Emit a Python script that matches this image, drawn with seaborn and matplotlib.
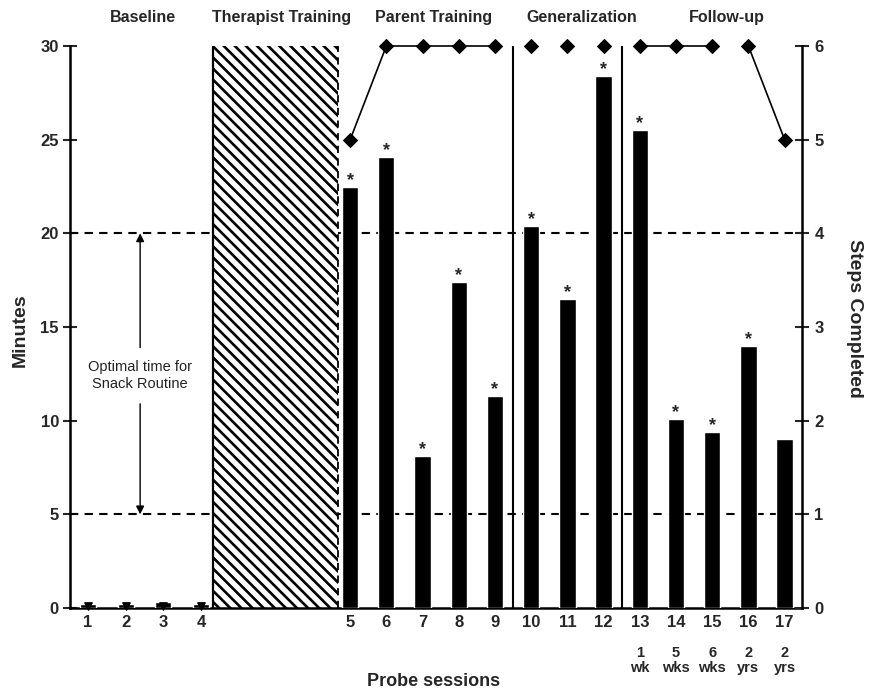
import numpy as np
import pandas as pd
import matplotlib
matplotlib.use("Agg")
import matplotlib.pyplot as plt
import seaborn as sns
from matplotlib.transforms import blended_transform_factory

# ---------------- data ----------------
sessions = [str(i) for i in range(1, 18)]
baseline_minutes = [0.2, 0.2, 0.3, 0.2]
treatment_minutes = [22.5, 24.1, 8.1, 17.4, 11.3, 20.4, 16.5, 28.4, 25.5, 10.1, 9.4, 14.0, 9.0]
steps_completed = [5, 6, 6, 6, 6, 6, 6, 6, 6, 6, 6, 6, 5]
step_segments = [1, 1, 1, 1, 1, 2, 3, 4, 5, 5, 5, 6, 6]
asterisk = [1, 1, 1, 1, 1, 1, 1, 1, 1, 1, 1, 1, 0]
followup_labels = ["1\nwk", "5\nwks", "6\nwks", "2\nyrs", "2\nyrs"]
phase_labels = ["Baseline", "Therapist Training", "Parent Training", "Generalization", "Follow-up"]
optimal_range = [5, 20]
minute_ticks = [0, 5, 10, 15, 20, 25, 30]
step_ticks = [0, 1, 2, 3, 4, 5, 6]

# ---------------- layout ----------------
base_pos = np.arange(4) * 1.04
main_pos = 7.24 + np.arange(13)
hatch_span = (3.46, 6.91)

sns.set_theme(style="white")
plt.rcParams["font.family"] = ["Liberation Sans", "DejaVu Sans"]
plt.rcParams["font.weight"] = "bold"
plt.rcParams["hatch.linewidth"] = 1.9
plt.rcParams["hatch.color"] = "black"
narrow = ["Liberation Sans Narrow", "Liberation Sans", "DejaVu Sans"]

fig = plt.figure(figsize=(8.7, 6.93), dpi=100)
ax = fig.add_axes([70 / 870, 1 - 608 / 693, 732 / 870, 562 / 693])

df = pd.DataFrame({"pos": np.r_[base_pos, main_pos],
                   "minutes": baseline_minutes + treatment_minutes})
sns.barplot(data=df, x="pos", y="minutes", native_scale=True, width=0.45,
            color="black", saturation=1, errorbar=None, ax=ax, zorder=3)

# baseline tiny markers
ax.scatter(base_pos, [0.1] * 4, marker="v", s=28, color="black", zorder=4, clip_on=False)

# hatched therapist training block
ax.axvspan(hatch_span[0], hatch_span[1], ymin=0, ymax=1, facecolor="white",
           edgecolor="black", hatch="\\\\\\", lw=0, zorder=2)
ax.plot([hatch_span[0]] * 2, [0, 30], color="black", lw=1.6, zorder=3)
ax.plot([hatch_span[1]] * 2, [0, 30], color="black", lw=1.3, ls=(0, (4, 3)), zorder=3)

# optimal range dashed lines
for yv in optimal_range:
    ax.axhline(yv, color="black", lw=1.5, ls=(0, (4, 3)), zorder=1)

# phase separators
seps = [(main_pos[4] + main_pos[5]) / 2, (main_pos[7] + main_pos[8]) / 2]
ax.vlines(seps, 0, 30, color="black", lw=1.5, zorder=3)

# arrows + text
ax_x = 1.44
arr = dict(arrowstyle="-|>", color="black", lw=1, mutation_scale=12, shrinkA=0, shrinkB=0)
ax.annotate("", xy=(ax_x, optimal_range[1]), xytext=(ax_x, 13.9), arrowprops=arr)
ax.annotate("", xy=(ax_x, optimal_range[0]), xytext=(ax_x, 10.9), arrowprops=arr)
ax.text(ax_x, 12.4, "Optimal time for\nSnack Routine", ha="center", va="center",
        fontsize=10.5, fontweight="normal", linespacing=1.3, color="#222222")

# asterisks
for p, m, a in zip(main_pos, treatment_minutes, asterisk):
    if a:
        ax.text(p, m + 0.1, "*", ha="center", va="baseline", fontsize=13, fontweight="bold")

# axes formatting
ax.set_xlim(-0.497, 19.72)
ax.set_ylim(0, 30)
ax.set_xlabel("")
ax.set_ylabel("")
allpos = np.r_[base_pos, main_pos]
ax.set_xticks(allpos)
ax.set_xticklabels(sessions, fontsize=12, fontweight="bold")
mids = list((base_pos[:-1] + base_pos[1:]) / 2) + list((main_pos[:-1] + main_pos[1:]) / 2)
ax.set_xticks(mids, minor=True)
ax.tick_params(axis="x", which="major", length=0, pad=5)
ax.tick_params(axis="x", which="minor", length=5, width=1.5, direction="out")
ax.set_yticks(minute_ticks)
ax.set_yticklabels([str(v) for v in minute_ticks], fontsize=12, fontweight="bold")
ax.tick_params(axis="y", direction="inout", length=10, width=1.5, pad=3)
for s in ["left", "bottom"]:
    ax.spines[s].set_linewidth(1.8)
    ax.spines[s].set_color("black")
ax.spines["top"].set_visible(False)
ax.spines["right"].set_visible(False)

# steps completed (right axis)
ax2 = ax.twinx()
dfs = pd.DataFrame({"pos": main_pos, "steps": steps_completed, "seg": step_segments})
sns.lineplot(data=dfs, x="pos", y="steps", units="seg", estimator=None, color="black",
             lw=1.2, marker="D", markersize=7, markeredgecolor="black",
             markerfacecolor="black", ax=ax2, clip_on=False, legend=False)
ax2.set_ylim(0, 6)
ax2.set_xlim(-0.497, 19.72)
ax2.set_yticks(step_ticks)
ax2.set_yticklabels([str(v) for v in step_ticks], fontsize=12, fontweight="bold")
ax2.tick_params(axis="y", direction="inout", length=10, width=1.5, pad=4)
ax2.set_ylabel("")
ax2.set_xlabel("")
for s in ["left", "bottom", "top"]:
    ax2.spines[s].set_visible(False)
ax2.spines["right"].set_linewidth(1.8)
ax2.spines["right"].set_color("black")

trans = blended_transform_factory(ax.transData, ax.transAxes)
for p, lab in zip(main_pos[-5:], followup_labels):
    ax.text(p, -0.068, lab, transform=trans, ha="center", va="top", fontsize=10.5,
            fontweight="bold", linespacing=1.1, family=narrow)

phase_x = [base_pos.mean() - 0.05, sum(hatch_span) / 2 + 0.17, main_pos[0:5].mean() + 0.3,
           main_pos[5:8].mean() + 0.4, main_pos[8:13].mean() + 0.4]
for px, lab in zip(phase_x, phase_labels):
    ax.text(px, (608 - 17) / 562, lab, transform=trans, ha="center", va="center",
            fontsize=11.5, fontweight="bold", family=narrow)

fig.text(20 / 870, 1 - 330 / 693, "Minutes", rotation=90, ha="center", va="center",
         fontsize=14, fontweight="bold")
fig.text(855 / 870, 1 - 318 / 693, "Steps Completed", rotation=270, ha="center", va="center",
         fontsize=14, fontweight="bold")
fig.text(434 / 870, 1 - 682 / 693, "Probe sessions", ha="center", va="center",
         fontsize=13, fontweight="bold")

fig.savefig("out.png", dpi=100)
